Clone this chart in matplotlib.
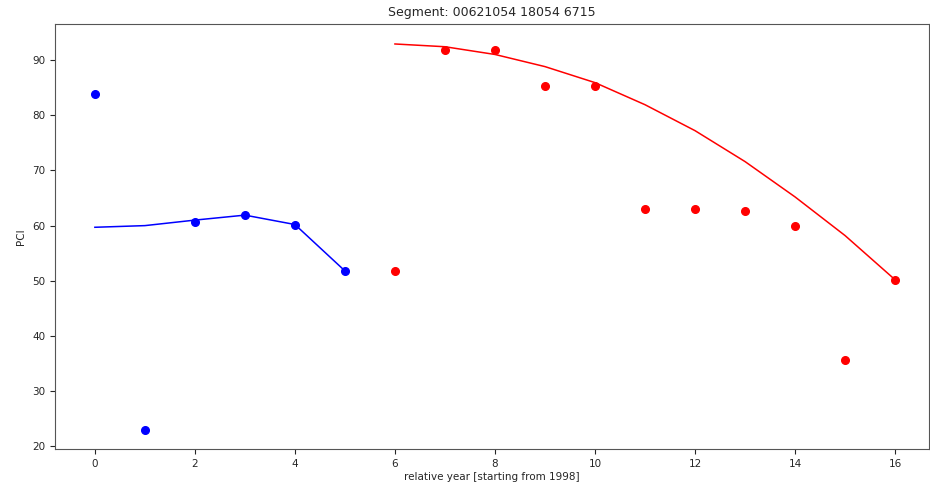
import matplotlib
matplotlib.use("Agg")
import matplotlib.pyplot as plt

# blue segment (before treatment)
years_a = [0, 1, 2, 3, 4, 5]
pci_a = [83.8, 23.0, 60.7, 61.9, 60.2, 51.8]
fit_a = [59.7, 60.0, 61.0, 61.9, 60.2, 51.8]

# red segment (after treatment)
years_b = [6, 7, 8, 9, 10, 11, 12, 13, 14, 15, 16]
pci_b = [51.8, 91.8, 91.8, 85.2, 85.2, 63.0, 63.0, 62.6, 59.9, 35.7, 50.2]
fit_b = [92.9, 92.4, 91.0, 88.8, 85.9, 81.9, 77.2, 71.6, 65.2, 58.2, 50.2]

fig, ax = plt.subplots(figsize=(9.3, 4.82), dpi=100)
fig.subplots_adjust(left=0.059, right=0.999, top=0.950, bottom=0.068)

ax.plot(years_a, pci_a, 'o', color='blue', markersize=5.5)
ax.plot(years_a, fit_a, '-', color='blue', linewidth=1.1)
ax.plot(years_b, pci_b, 'o', color='red', markersize=5.5)
ax.plot(years_b, fit_b, '-', color='red', linewidth=1.1)

ax.set_xlim(-0.8, 16.68)
ax.set_ylim(19.5, 96.5)
ax.set_xticks(range(0, 17, 2))
ax.set_title('Segment: 00621054 18054 6715', fontsize=9, color='#262626')
ax.set_xlabel('relative year [starting from 1998]', fontsize=7.5, color='#262626', labelpad=2)
ax.set_ylabel('PCI', fontsize=7.5, color='#262626')
ax.tick_params(labelsize=7.5, colors='#262626')
for s in ax.spines.values():
    s.set_color('#555555')

fig.savefig('out.png', dpi=100)
